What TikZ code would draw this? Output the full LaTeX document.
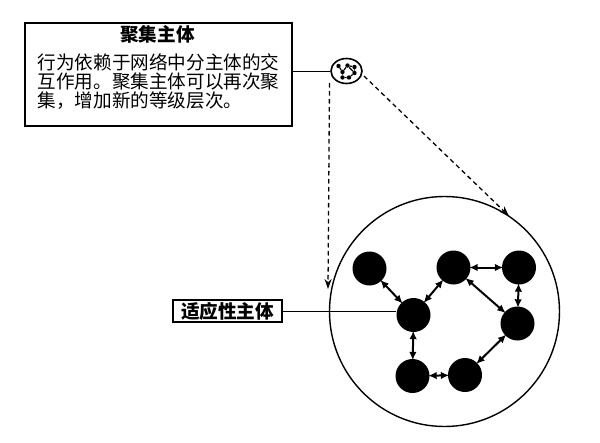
\documentclass[tikz,border=0pt]{standalone}
\usepackage{fontspec}
\newfontfamily\cjk{Noto Sans CJK SC}
\usetikzlibrary{arrows.meta,shapes.geometric}
\begin{document}
\begin{tikzpicture}[x=1pt,y=-1pt,
  agent/.style={circle,fill=black,minimum size=34pt,inner sep=0pt},
  tiny/.style={circle,fill=black,minimum size=4.4pt,inner sep=0pt},
  link/.style={line width=2pt,{Latex[length=8.5pt,width=7.5pt]}-{Latex[length=8.5pt,width=7.5pt]},shorten <=-1.5pt,shorten >=-1.5pt},
  tinylink/.style={line width=1.2pt},
  frame/.style={draw,line width=1.6pt},
  body/.style={font=\cjk\fontsize{18.6}{19.5}\selectfont,inner sep=0pt,anchor=west},
  zoomline/.style={dashed,dash pattern=on 4.5pt off 3.5pt,line width=1.3pt,-{Stealth[length=10pt,width=7pt]}}]
\useasboundingbox (0,0) rectangle (600,442);

% aggregate description box
\node[frame,minimum width=267pt,minimum height=103pt,inner sep=0pt] (agg) at (158.5,74.5) {};
\node[font=\cjk\bfseries\fontsize{18.6}{19.5}\selectfont,inner sep=0pt] (title) at (157.5,34) {聚集主体};
\node[body] (l1) at (37.5,62) {行为依赖于网络中分主体的交};
\node[body] (l2) at (37.5,81) {互作用。聚集主体可以再次聚};
\node[body] (l3) at (37.5,100.5) {集，增加新的等级层次。};

% small aggregate icon
\node[draw,line width=1.6pt,ellipse,minimum width=31pt,minimum height=25pt,inner sep=0pt] (small) at (346.5,71) {};
\begin{scope}[shift={(346.5,71)}]
  \node[tiny] (sa) at (-8,-5) {};
  \node[tiny] (sb) at (1,-5.5) {};
  \node[tiny] (sc) at (8,-4) {};
  \node[tiny] (sd) at (-4,1) {};
  \node[tiny] (se) at (8,2) {};
  \node[tiny] (sf) at (-4,6.5) {};
  \node[tiny] (sg) at (2.5,6.5) {};
  \draw[tinylink] (sa)--(sd) (sd)--(sb) (sb)--(sc) (sb)--(se) (sc)--(se) (se)--(sg) (sg)--(sf) (sf)--(sd);
\end{scope}
\draw[line width=1pt] (agg.east |- small.west) -- (small.west);

% zoom-in arrows
\coordinate (zv0) at (329.5,83);
\coordinate (zv1) at (328,289);
\coordinate (zd0) at (364,76);
\coordinate (zd1) at (509,216);
\draw[zoomline] (zv0) -- (zv1);
\draw[zoomline] (zd0) -- (zd1);

% aggregate enlarged
\node[draw,circle,line width=1.4pt,minimum size=230pt,inner sep=0pt] (big) at (444.5,311.5) {};
\node[agent] (a) at (369.5,268.5) {};
\node[agent] (b) at (453.5,267.5) {};
\node[agent] (c) at (519,267.5) {};
\node[agent] (d) at (413.5,315) {};
\node[agent] (e) at (517.5,323.5) {};
\node[agent] (f) at (412.5,376) {};
\node[agent] (g) at (465,375) {};
\draw[link] (a) -- (d);
\draw[link] (d) -- (b);
\draw[link] (b) -- (c);
\draw[link] (b) -- (e);
\draw[link] (c) -- (e);
\draw[link] (e) -- (g);
\draw[link] (g) -- (f);
\draw[link] (f) -- (d);

% adaptive agent label
\node[frame,font=\cjk\bfseries\fontsize{18.6}{19.5}\selectfont,minimum width=109pt,minimum height=22pt,inner sep=0pt] (lab) at (227.5,311) {适应性主体};
\draw[line width=1pt] (lab.east) -- (lab.east -| d.west);
\end{tikzpicture}
\end{document}
